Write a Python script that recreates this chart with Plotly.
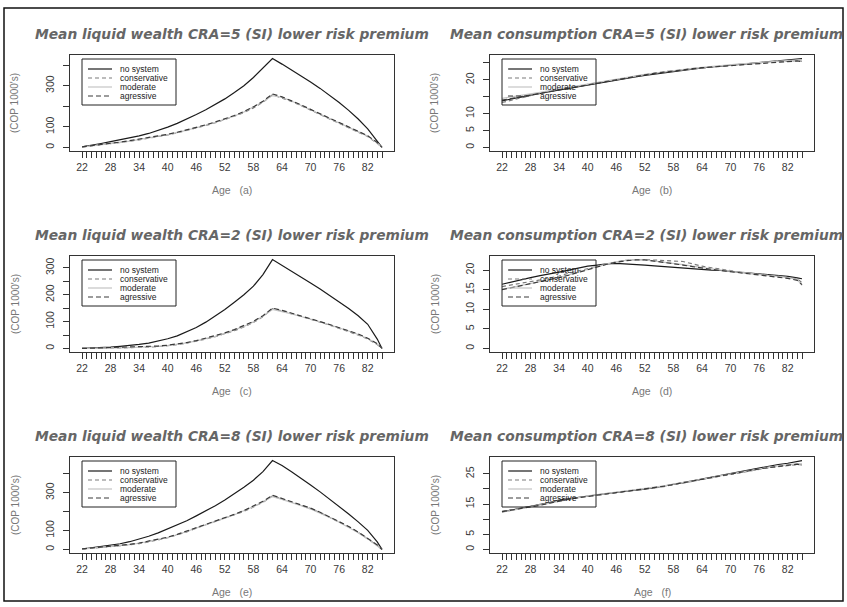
import plotly.graph_objects as go

W, H = 847, 607

# ---------------- data ----------------
AGES = [22, 24, 26, 28, 30, 32, 34, 36, 38, 40, 42, 44, 46, 48, 50, 52, 54, 56, 58, 60,
        62, 64, 66, 68, 70, 72, 74, 76, 78, 80, 82, 84, 85]
X_TICK_AGES = list(range(22, 86))
X_LABEL_AGES = list(range(22, 86, 6))
SERIES_NAMES = ["no system", "conservative", "moderate", "agressive"]

# (a) Mean liquid wealth CRA=5
wealth5_nosys = [3, 10, 19, 28, 37, 46, 56, 68, 82, 99, 117, 137, 160, 183, 208, 236, 267, 300, 340, 385,
                 432, 405, 377, 347, 318, 287, 253, 218, 180, 138, 90, 32, 0]
wealth5_cons = [2, 7, 12, 18, 24, 30, 37, 44, 52, 61, 71, 82, 94, 107, 120, 135, 152, 170, 192, 220,
                256, 240, 224, 203, 182, 162, 140, 118, 97, 76, 53, 20, 0]
wealth5_mod = [2, 7, 13, 19, 25, 31, 38, 45, 53, 62, 72, 83, 95, 108, 122, 137, 153, 172, 195, 222,
               252, 243, 226, 205, 184, 160, 141, 120, 98, 78, 55, 22, 0]
wealth5_agr = [3, 8, 14, 20, 26, 33, 40, 47, 55, 64, 74, 85, 97, 110, 124, 139, 155, 175, 197, 225,
               260, 246, 228, 207, 185, 164, 143, 121, 100, 80, 57, 24, 0]

# (b) Mean consumption CRA=5
cons5_nosys = [13.8, 14.4, 15.0, 15.5, 16.0, 16.5, 17.0, 17.5, 18.0, 18.6, 19.1, 19.6, 20.0, 20.4, 20.9, 21.3,
               21.7, 22.1, 22.5, 22.8, 23.2, 23.5, 23.8, 24.1, 24.4, 24.7, 25.0, 25.2, 25.4, 25.6, 25.9, 26.1, 26.3]
cons5_cons = [13.3, 14.0, 14.8, 15.4, 16.1, 16.7, 17.2, 17.7, 18.2, 18.7, 19.2, 19.7, 20.2, 20.6, 21.1, 21.6,
              22.0, 22.4, 22.7, 23.0, 23.3, 23.6, 23.9, 24.1, 24.3, 24.6, 24.8, 25.0, 25.2, 25.4, 25.6, 25.7, 25.5]
cons5_mod = [14.5, 14.9, 15.3, 15.8, 16.3, 16.8, 17.3, 17.8, 18.3, 18.8, 19.3, 19.8, 20.3, 20.7, 21.2, 21.6,
             22.0, 22.4, 22.8, 23.1, 23.4, 23.7, 24.0, 24.2, 24.4, 24.7, 24.9, 25.1, 25.3, 25.5, 25.7, 25.9, 26.0]
cons5_agr = [14.0, 14.5, 15.1, 15.6, 16.2, 16.7, 17.2, 17.7, 18.2, 18.7, 19.2, 19.7, 20.1, 20.6, 21.0, 21.5,
             21.9, 22.3, 22.6, 23.0, 23.3, 23.6, 23.8, 24.1, 24.3, 24.5, 24.7, 24.9, 25.1, 25.3, 25.5, 25.6, 25.4]

# (c) Mean liquid wealth CRA=2
wealth2_nosys = [0, 1, 3, 5, 8, 11, 15, 20, 27, 36, 47, 61, 78, 98, 120, 145, 172, 200, 232, 275,
                 331, 310, 288, 266, 244, 221, 198, 174, 149, 122, 90, 35, 0]
wealth2_cons = [0, 0, 1, 1, 2, 3, 3, 5, 7, 10, 14, 20, 27, 35, 44, 54, 66, 80, 97, 118,
                148, 140, 130, 120, 109, 98, 87, 75, 63, 50, 35, 15, 0]
wealth2_mod = [0, 0, 1, 2, 2, 3, 4, 6, 8, 11, 15, 21, 28, 36, 45, 56, 68, 82, 99, 120,
               145, 138, 129, 119, 110, 99, 88, 77, 65, 52, 37, 17, 0]
wealth2_agr = [0, 1, 1, 2, 3, 4, 5, 7, 9, 12, 16, 22, 29, 38, 47, 58, 70, 84, 101, 122,
               150, 142, 132, 122, 111, 100, 89, 78, 66, 54, 38, 18, 0]

# (d) Mean consumption CRA=2
cons2_nosys = [16.4, 17.0, 17.6, 18.1, 18.6, 19.0, 19.5, 20.0, 20.5, 21.0, 21.3, 21.6, 21.7, 21.6, 21.4, 21.3,
               21.1, 20.9, 20.7, 20.5, 20.3, 20.2, 20.0, 19.9, 19.7, 19.5, 19.3, 19.1, 18.9, 18.7, 18.4, 18.0, 17.8]
cons2_cons = [15.8, 16.2, 16.6, 17.0, 17.5, 18.0, 18.5, 19.2, 19.8, 20.4, 21.0, 21.6, 22.1, 22.5, 22.7, 22.7,
              22.6, 22.5, 22.4, 22.2, 21.6, 21.0, 20.6, 20.2, 19.8, 19.5, 19.2, 18.9, 18.7, 18.5, 18.2, 17.8, 16.8]
cons2_mod = [15.1, 15.6, 16.0, 16.5, 17.0, 17.6, 18.1, 18.8, 19.5, 20.2, 20.9, 21.6, 22.1, 22.5, 22.7, 22.6,
             22.3, 22.0, 21.8, 21.4, 21.0, 20.6, 20.3, 20.0, 19.7, 19.4, 19.1, 18.9, 18.6, 18.4, 18.1, 17.6, 16.1]
cons2_agr = [15.0, 15.5, 16.0, 16.5, 17.0, 17.5, 18.1, 18.7, 19.4, 20.1, 20.8, 21.5, 22.0, 22.4, 22.6, 22.6,
             22.3, 22.0, 21.7, 21.3, 20.9, 20.5, 20.2, 19.9, 19.6, 19.3, 19.0, 18.8, 18.5, 18.2, 17.9, 17.4, 16.3]

# (e) Mean liquid wealth CRA=8
wealth8_nosys = [2, 8, 14, 21, 30, 41, 55, 70, 88, 108, 129, 152, 178, 204, 232, 262, 295, 330, 367, 412,
                 471, 445, 412, 378, 342, 305, 267, 228, 188, 146, 101, 40, 0]
wealth8_cons = [2, 6, 10, 14, 19, 25, 31, 40, 50, 62, 76, 93, 113, 130, 147, 164, 182, 202, 225, 250,
                284, 268, 252, 235, 217, 195, 171, 146, 120, 90, 57, 22, 0]
wealth8_mod = [2, 6, 10, 15, 20, 26, 33, 42, 52, 64, 78, 95, 114, 131, 148, 166, 184, 204, 227, 252,
               280, 265, 250, 232, 214, 193, 169, 144, 118, 89, 56, 21, 0]
wealth8_agr = [3, 7, 11, 15, 21, 27, 34, 43, 53, 65, 80, 97, 116, 133, 150, 168, 186, 206, 229, 255,
               287, 270, 254, 237, 219, 197, 173, 148, 122, 92, 59, 24, 0]

# (f) Mean consumption CRA=8
cons8_nosys = [12.4, 13.0, 13.6, 14.1, 14.8, 15.5, 16.3, 16.8, 17.3, 17.7, 18.1, 18.5, 18.8, 19.2, 19.5, 19.9,
               20.4, 20.9, 21.5, 22.1, 22.7, 23.3, 24.0, 24.6, 25.2, 25.8, 26.5, 27.1, 27.6, 28.1, 28.5, 29.1, 29.4]
cons8_cons = [12.6, 13.1, 13.6, 14.2, 14.9, 15.6, 16.2, 16.7, 17.2, 17.6, 18.0, 18.4, 18.8, 19.1, 19.5, 19.9,
              20.3, 20.8, 21.4, 21.9, 22.5, 23.1, 23.7, 24.3, 24.9, 25.4, 26.0, 26.5, 27.0, 27.4, 27.8, 28.1, 28.0]
cons8_mod = [12.3, 12.9, 13.5, 14.1, 14.7, 15.4, 16.1, 16.7, 17.2, 17.7, 18.1, 18.5, 18.9, 19.2, 19.6, 20.0,
             20.5, 21.0, 21.6, 22.1, 22.7, 23.2, 23.8, 24.4, 25.0, 25.6, 26.2, 26.7, 27.2, 27.6, 28.0, 28.4, 28.3]
cons8_agr = [12.5, 13.0, 13.5, 14.0, 14.6, 15.3, 16.0, 16.6, 17.1, 17.6, 18.0, 18.4, 18.8, 19.2, 19.6, 20.0,
             20.4, 20.9, 21.5, 22.0, 22.6, 23.2, 23.8, 24.4, 25.0, 25.5, 26.1, 26.6, 27.1, 27.5, 27.9, 28.2, 27.8]

TITLES = ["Mean liquid wealth CRA=5 (SI) lower risk premium",
          "Mean consumption CRA=5 (SI) lower risk premium",
          "Mean liquid wealth CRA=2 (SI) lower risk premium",
          "Mean consumption CRA=2 (SI) lower risk premium",
          "Mean liquid wealth CRA=8 (SI) lower risk premium",
          "Mean consumption CRA=8 (SI) lower risk premium"]
PANEL_TAGS = ["(a)", "(b)", "(c)", "(d)", "(e)", "(f)"]
PANEL_DATA = [
    [wealth5_nosys, wealth5_cons, wealth5_mod, wealth5_agr],
    [cons5_nosys, cons5_cons, cons5_mod, cons5_agr],
    [wealth2_nosys, wealth2_cons, wealth2_mod, wealth2_agr],
    [cons2_nosys, cons2_cons, cons2_mod, cons2_agr],
    [wealth8_nosys, wealth8_cons, wealth8_mod, wealth8_agr],
    [cons8_nosys, cons8_cons, cons8_mod, cons8_agr],
]
Y_TICKS = [
    [0, 100, 200, 300, 400],
    [0, 5, 10, 15, 20, 25],
    [0, 50, 100, 150, 200, 250, 300],
    [0, 5, 10, 15, 20],
    [0, 100, 200, 300, 400],
    [0, 5, 10, 15, 20, 25],
]
Y_TICK_LABELS = [
    ["0", "100", "", "300", ""],
    ["0", "5", "10", "", "20", ""],
    ["0", "", "100", "", "200", "", "300"],
    ["0", "5", "10", "15", "20"],
    ["0", "100", "", "300", ""],
    ["0", "5", "", "15", "", "25"],
]

# ---------------- styling ----------------
LINE_STYLES = [
    dict(color="#1a1a1a", width=1.2, dash="solid"),
    dict(color="#7a7a7a", width=1.2, dash="4px,3px"),
    dict(color="#c4c4c4", width=1.2, dash="solid"),
    dict(color="#3a3a3a", width=1.2, dash="5px,3px"),
]
COL_LEFT = [70, 490]
ROW_TOP = [55, 256, 457]
PW, PH = 324, 96
FRAME_COLOR = "#333333"


def fx(x):
    return x / W


def fy(y):
    return 1 - y / H


fig = go.Figure()
shapes = []
annotations = []

# outer border
shapes.append(dict(type="rect", xref="paper", yref="paper",
                   x0=fx(4), x1=fx(843), y0=fy(601), y1=fy(8),
                   line=dict(color="#111", width=1.5), fillcolor="rgba(0,0,0,0)"))

x_lo = min(AGES) - 0.04 * (max(AGES) - min(AGES))
x_hi = max(AGES) + 0.04 * (max(AGES) - min(AGES))

for i in range(6):
    r, c = divmod(i, 2)
    left, top = COL_LEFT[c], ROW_TOP[r]
    n = i + 1
    xa = "x" if n == 1 else f"x{n}"
    ya = "y" if n == 1 else f"y{n}"
    for s in range(4):
        fig.add_trace(go.Scatter(x=AGES, y=PANEL_DATA[i][s], mode="lines",
                                 name=SERIES_NAMES[s], line=LINE_STYLES[s],
                                 xaxis=xa, yaxis=ya, showlegend=False, hoverinfo="skip"))
    ymax = max(max(v) for v in PANEL_DATA[i])
    ticktext_x = [str(a) if a in X_LABEL_AGES else "" for a in X_TICK_AGES]
    fig.layout[f"xaxis{'' if n == 1 else n}"] = dict(
        domain=[fx(left), fx(left + PW)], anchor=ya,
        range=[x_lo, x_hi], tickmode="array", tickvals=X_TICK_AGES, ticktext=ticktext_x,
        ticks="outside", ticklen=6, tickwidth=1, tickcolor=FRAME_COLOR,
        showline=True, linecolor=FRAME_COLOR, linewidth=1.2, mirror=True,
        showgrid=False, zeroline=False,
        tickfont=dict(family="Liberation Sans, Arial", size=10.5, color="#3a3a3a"))
    fig.layout[f"yaxis{'' if n == 1 else n}"] = dict(
        domain=[fy(top + PH), fy(top)], anchor=xa,
        range=[-0.04 * ymax, 1.04 * ymax], tickmode="array",
        tickvals=Y_TICKS[i], ticktext=Y_TICK_LABELS[i], tickangle=-90,
        ticks="outside", ticklen=6, tickwidth=1, tickcolor=FRAME_COLOR,
        ticklabelstandoff=5,
        showline=True, linecolor=FRAME_COLOR, linewidth=1.2, mirror=True,
        showgrid=False, zeroline=False,
        tickfont=dict(family="Liberation Sans, Arial", size=10.5, color="#3a3a3a"))

    cx = left + PW / 2
    # panel title (right column: pulled in so it ends at the page edge)
    if c == 0:
        tdict = dict(x=fx(cx), xanchor="center")
    else:
        tdict = dict(x=fx(845), xanchor="right")
    annotations.append(dict(text=TITLES[i], xref="paper", yref="paper",
                            y=fy(top - 21), yanchor="middle", showarrow=False,
                            font=dict(family="DejaVu Sans", size=13.8, color="#666666",
                                      weight="bold", style="italic"), **tdict))
    # x title
    annotations.append(dict(text="Age   " + PANEL_TAGS[i], xref="paper", yref="paper",
                            x=fx(cx), y=fy(top + PH + 39), xanchor="center", yanchor="middle",
                            showarrow=False,
                            font=dict(family="Liberation Sans, Arial", size=10.5, color="#777777")))
    # y title
    annotations.append(dict(text="(COP 1000's)", xref="paper", yref="paper",
                            x=fx(left - 55), y=fy(top + PH / 2), xanchor="center", yanchor="middle",
                            textangle=-90, showarrow=False,
                            font=dict(family="Liberation Sans, Arial", size=10, color="#777777")))
    # legend box
    shapes.append(dict(type="rect", xref="paper", yref="paper",
                       x0=fx(left + 12), x1=fx(left + 106), y0=fy(top + 50), y1=fy(top + 4),
                       line=dict(color="#222", width=1), fillcolor="rgba(0,0,0,0)"))
    for s in range(4):
        yy = top + 14 + 9 * s
        st = LINE_STYLES[s]
        shapes.append(dict(type="line", xref="paper", yref="paper",
                           x0=fx(left + 18), x1=fx(left + 42), y0=fy(yy), y1=fy(yy),
                           line=dict(color=st["color"], width=st["width"], dash=st["dash"])))
        annotations.append(dict(text=SERIES_NAMES[s], xref="paper", yref="paper",
                                x=fx(left + 48), y=fy(yy), xanchor="left", yanchor="middle",
                                showarrow=False,
                                font=dict(family="Liberation Sans, Arial", size=8.5, color="#222")))

fig.update_layout(width=W, height=H, margin=dict(l=0, r=0, t=0, b=0),
                  paper_bgcolor="white", plot_bgcolor="white",
                  shapes=shapes, annotations=annotations, showlegend=False)

fig.write_html("out.html", config={"displayModeBar": False},
               post_script="document.body.style.margin='0';document.body.style.overflow='hidden';")
